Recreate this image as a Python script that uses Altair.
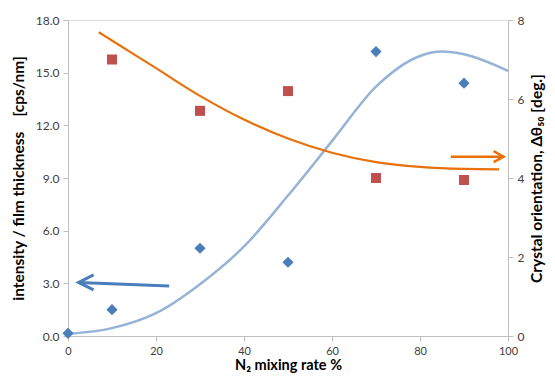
import altair as alt
import pandas as pd

# ---- data ----
n2_pts = [0, 10, 30, 50, 70, 90]
intensity_pts = [0.15, 1.5, 5.0, 4.2, 16.2, 14.4]

n2_sq = [10, 30, 50, 70, 90]
orient_pts = [7.0, 5.7, 6.2, 4.0, 3.95]

fit_blue_x = [0, 10, 20, 30, 40, 50, 60, 70, 80, 85, 90, 100]
fit_blue_y = [0.12, 0.45, 1.3, 2.95, 5.1, 8.0, 11.1, 14.2, 15.95, 16.2, 16.05, 15.1]

fit_orange_x = [7, 10, 20, 30, 40, 50, 60, 70, 80, 90, 98]
fit_orange_y = [7.69, 7.48, 6.78, 6.08, 5.48, 5.0, 4.64, 4.4, 4.28, 4.23, 4.22]

# arrows (annotation anchors in data units)
blue_arrow = {"x": [23], "y": [2.85], "x2": [2.4], "y2": [3.05]}
orange_arrow = {"x": [87], "y": [4.54], "x2": [99], "y2": [4.54]}

FONT = "Lato"
BLUE = "#4A7EBB"
LIGHT_BLUE = "#95B3D7"
RED = "#C0504D"
ORANGE = "#E8710A"
AX = "#BFBFBF"

xscale = alt.Scale(domain=[0, 100], nice=False)
yl = alt.Scale(domain=[0, 18], nice=False)
yr = alt.Scale(domain=[0, 8], nice=False)

x_axis = alt.Axis(values=[0, 20, 40, 60, 80, 100], title="N₂ mixing rate %",
                  grid=False, domainColor=AX, tickColor=AX, tickSize=5,
                  labelFlush=False,
                  labelFont=FONT, labelFontSize=11, labelColor="#404040",
                  titleFont=FONT, titleFontSize=14.5, titleFontWeight="bold",
                  titleColor="#000000", titleBaseline="alphabetic", titleY=33,
                  labelPadding=4)

left_axis = alt.Axis(values=[0, 3, 6, 9, 12, 15, 18], format=".1f",
                     title="intensity / film thickness\u00a0\u00a0\u00a0\u00a0[cps/nm]",
                     grid=False, domainColor=AX, tickColor=AX, tickSize=5,
                     labelFlush=False,
                     labelFont=FONT, labelFontSize=12, labelColor="#404040",
                     titleFont=FONT, titleFontSize=15.5, titleFontWeight="bold",
                     titleColor="#000000", titlePadding=9, labelPadding=4)

right_axis = alt.Axis(values=[0, 2, 4, 6, 8], orient="right",
                      title="Crystal orientation, Δθ₅₀ [deg.]",
                      grid=False, domainColor=AX, tickColor=AX, tickSize=5,
                      labelFlush=False,
                      labelFont=FONT, labelFontSize=12, labelColor="#404040",
                      titleFont=FONT, titleFontSize=15.5, titleFontWeight="bold",
                      titleColor="#000000", titleAngle=270, titleBaseline="top",
                      titlePadding=6, labelPadding=4)

df_blue = pd.DataFrame({"x": n2_pts, "y": intensity_pts})
df_red = pd.DataFrame({"x": n2_sq, "y": orient_pts})
df_fb = pd.DataFrame({"x": fit_blue_x, "y": fit_blue_y})
df_fo = pd.DataFrame({"x": fit_orange_x, "y": fit_orange_y})
df_ba = pd.DataFrame(blue_arrow)
df_oa = pd.DataFrame(orange_arrow)

# left-axis group
blue_curve = alt.Chart(df_fb).mark_line(color=LIGHT_BLUE, strokeWidth=2.5,
                                        interpolate="monotone").encode(
    x=alt.X("x:Q", scale=xscale, axis=x_axis),
    y=alt.Y("y:Q", scale=yl, axis=left_axis))
blue_pts = alt.Chart(df_blue).mark_point(shape="diamond", filled=True, size=125,
                                         color=BLUE, opacity=1).encode(
    x=alt.X("x:Q", scale=xscale), y=alt.Y("y:Q", scale=yl))
blue_shaft = alt.Chart(df_ba).mark_rule(color=BLUE, strokeWidth=3).encode(
    x=alt.X("x:Q", scale=xscale), y=alt.Y("y:Q", scale=yl),
    x2="x2:Q", y2="y2:Q")
blue_head = alt.Chart(df_ba).mark_point(shape="M1,-0.5L0,0L1,0.5", filled=False,
                                        size=900, color=BLUE, strokeWidth=3,
                                        opacity=1).encode(
    x=alt.X("x2:Q", scale=xscale), y=alt.Y("y2:Q", scale=yl))
left = alt.layer(blue_curve, blue_pts, blue_shaft, blue_head)

# right-axis group
orange_curve = alt.Chart(df_fo).mark_line(color=ORANGE, strokeWidth=2.2,
                                          interpolate="monotone").encode(
    x=alt.X("x:Q", scale=xscale),
    y=alt.Y("y:Q", scale=yr, axis=right_axis))
red_pts = alt.Chart(df_red).mark_point(shape="square", filled=True, size=100,
                                       color=RED, opacity=1).encode(
    x=alt.X("x:Q", scale=xscale), y=alt.Y("y:Q", scale=yr))
orange_shaft = alt.Chart(df_oa).mark_rule(color=ORANGE, strokeWidth=2.5).encode(
    x=alt.X("x:Q", scale=xscale), y=alt.Y("y:Q", scale=yr),
    x2="x2:Q", y2="y2:Q")
orange_head = alt.Chart(df_oa).mark_point(shape="M-1,-0.55L0,0L-1,0.55", filled=False,
                                          size=400, color=ORANGE, strokeWidth=2.5,
                                          opacity=1).encode(
    x=alt.X("x2:Q", scale=xscale), y=alt.Y("y2:Q", scale=yr))
right = alt.layer(orange_curve, red_pts, orange_shaft, orange_head)

chart = alt.layer(left, right).resolve_scale(y="independent").properties(
    width=440, height=316,
    autosize=alt.AutoSizeParams(type="none"),
    padding={"left": 60, "top": 12, "right": 39, "bottom": 37},
).configure_view(stroke=AX, strokeWidth=1).configure(background="white")

chart.save("out.html", embed_options={"renderer": "svg", "actions": False})
